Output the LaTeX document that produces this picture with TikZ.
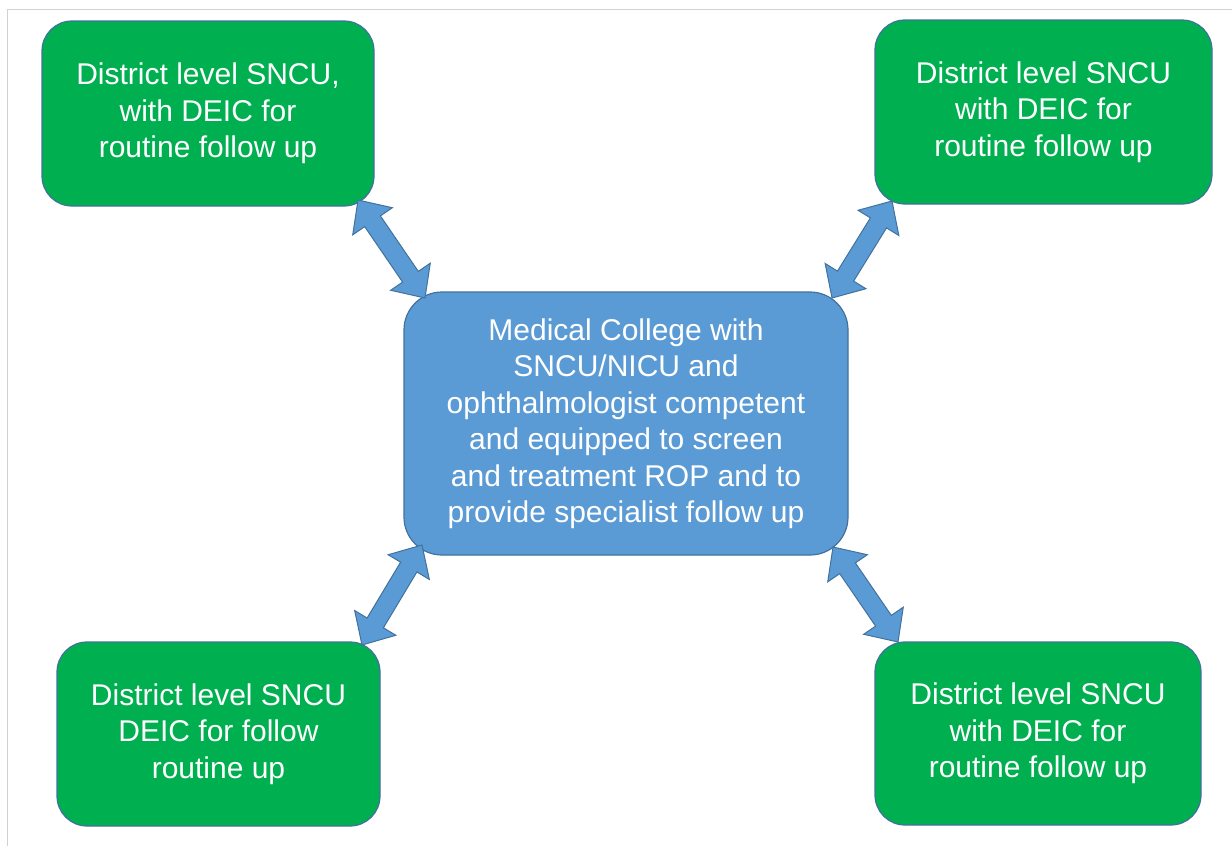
\documentclass[tikz,border=0pt]{standalone}
\usepackage{fontspec}
\setmainfont{Liberation Sans}
\usetikzlibrary{calc,shapes.arrows}
\definecolor{boxgreen}{RGB}{0,176,80}
\definecolor{hubblue}{RGB}{91,155,213}
\definecolor{edgeblue}{RGB}{65,113,156}
\tikzset{
  district/.style={draw=edgeblue, fill=boxgreen, line width=1.2pt, rounded corners=30pt,
    inner sep=0pt, text=white, align=center, font=\fontsize{30}{36.5}\selectfont},
  hub/.style={draw=edgeblue, fill=hubblue, line width=1.2pt, rounded corners=38pt,
    inner sep=0pt, text=white, align=center, font=\fontsize{30}{36.5}\selectfont},
  blockarrow/.style={double arrow, draw=edgeblue, fill=hubblue, line width=1pt,
    inner xsep=0pt, inner ysep=9pt, minimum width=0pt,
    double arrow head extend=14.5pt, double arrow tip angle=86}
}

\begin{document}
\begin{tikzpicture}[x=1pt,y=-1pt]
\useasboundingbox (0,0) rectangle (1232,846);
\draw[gray!35, line width=1pt] (7.5,846) -- (7.5,9) -- (1232,9);

\node[hub, minimum width=444pt, minimum height=263pt](mc) at (626,423.5){Medical College with\\ SNCU/NICU and\\ ophthalmologist competent\\ and equipped to screen\\ and treatment ROP and to\\ provide specialist follow up};
\node[district, minimum width=332pt, minimum height=185pt](tl) at (208,113.5){District level SNCU,\\ with DEIC for\\ routine follow up};
\node[district, minimum width=337pt, minimum height=184pt](tr) at (1043.5,112){District level SNCU\\ with DEIC for\\ routine follow up};
\node[district, minimum width=323pt, minimum height=184pt](bl) at (218.5,734){District level SNCU\\ DEIC for follow\\ routine up};
\node[district, minimum width=326pt, minimum height=183pt](br) at (1038,733.5){District level SNCU\\ with DEIC for\\ routine follow up};

% arrow ends on the rounded corners
\coordinate (tlend) at (358,200);  \coordinate (tlhub) at (425,298);
\coordinate (trend) at (892,201);  \coordinate (trhub) at (832,298);
\coordinate (blend) at (362,645);  \coordinate (blhub) at (422,545);
\coordinate (brend) at (898,642);  \coordinate (brhub) at (833,547);

\path let \p1=($(tlhub)-(tlend)$), \n1={veclen(\x1,\y1)} in (tlend) -- node[blockarrow, sloped, minimum height=\n1]{} (tlhub);
\path let \p1=($(trhub)-(trend)$), \n1={veclen(\x1,\y1)} in (trend) -- node[blockarrow, sloped, minimum height=\n1]{} (trhub);
\path let \p1=($(blhub)-(blend)$), \n1={veclen(\x1,\y1)} in (blend) -- node[blockarrow, sloped, minimum height=\n1]{} (blhub);
\path let \p1=($(brhub)-(brend)$), \n1={veclen(\x1,\y1)} in (brend) -- node[blockarrow, sloped, minimum height=\n1]{} (brhub);
\end{tikzpicture}
\end{document}
